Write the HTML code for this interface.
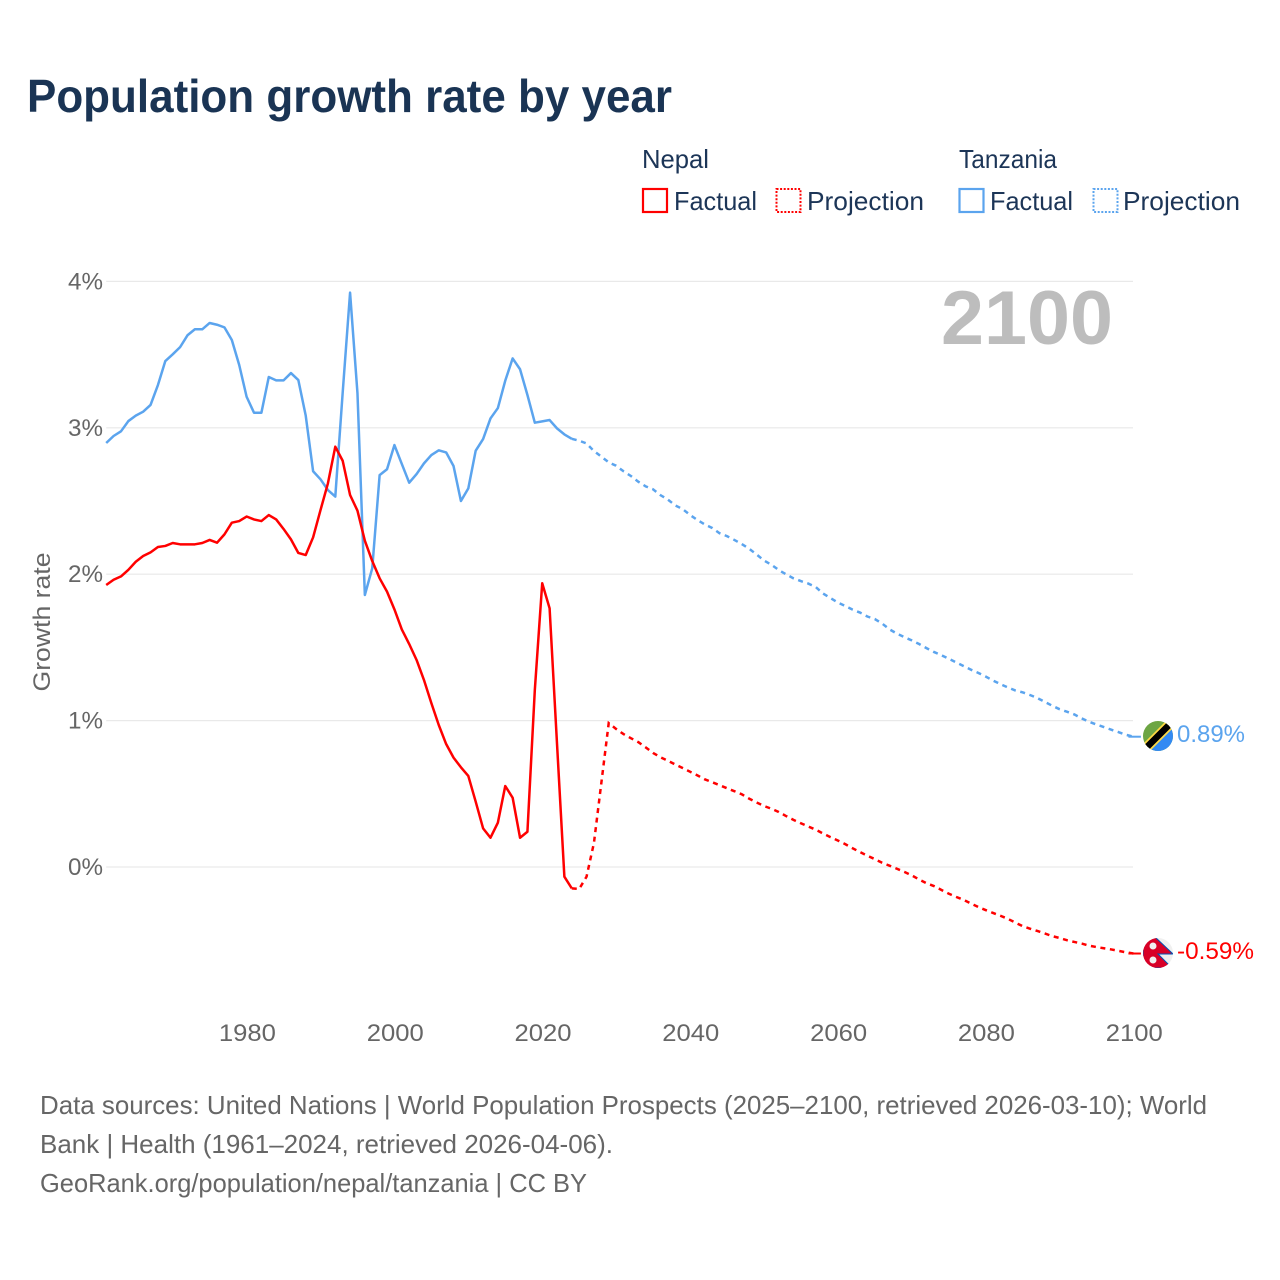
<!DOCTYPE html>
<html lang="en">
<head>
<meta charset="utf-8">
<title>Population growth rate by year</title>
<style>
html,body{margin:0;padding:0;background:#fff;}
svg{display:block;}
text{font-family:"Liberation Sans",sans-serif;}
</style>
</head>
<body>
<svg id="chart" xmlns="http://www.w3.org/2000/svg" width="1280" height="1280" viewBox="0 0 1280 1280">
  <rect width="1280" height="1280" fill="#ffffff"/>
  <text x="27" y="112" font-size="46" font-weight="700" fill="#1a3454" textLength="645" lengthAdjust="spacingAndGlyphs">Population growth rate by year</text>

  <g font-size="26" fill="#1c3557">
    <text x="642" y="168" textLength="67" lengthAdjust="spacingAndGlyphs">Nepal</text>
    <text x="959" y="168" textLength="98" lengthAdjust="spacingAndGlyphs">Tanzania</text>
    <rect x="643" y="189" width="24" height="23" fill="none" stroke="#ff0000" stroke-width="2.2"/>
    <text x="674" y="210" textLength="83" lengthAdjust="spacingAndGlyphs">Factual</text>
    <rect x="776.5" y="189" width="24" height="23" fill="none" stroke="#ff0000" stroke-width="2" stroke-dasharray="2 1.6"/>
    <text x="807" y="210" textLength="117" lengthAdjust="spacingAndGlyphs">Projection</text>
    <rect x="959.5" y="189" width="24" height="23" fill="none" stroke="#5ba4ee" stroke-width="2.2"/>
    <text x="990" y="210" textLength="83" lengthAdjust="spacingAndGlyphs">Factual</text>
    <rect x="1093.5" y="189" width="24" height="23" fill="none" stroke="#5ba4ee" stroke-width="2" stroke-dasharray="2 1.6"/>
    <text x="1123" y="210" textLength="117" lengthAdjust="spacingAndGlyphs">Projection</text>
  </g>

  <g id="grid"></g>
  <g id="yticks"></g>
  <g id="xticks"></g>
  <text transform="translate(50,622) rotate(-90)" text-anchor="middle" font-size="24" fill="#666666" textLength="139" lengthAdjust="spacingAndGlyphs">Growth rate</text>

  <text x="941" y="344" font-size="76" font-weight="700" fill="#bdbdbd" textLength="172" lengthAdjust="spacingAndGlyphs">2100</text>

  <g id="series"></g>

  <defs>
    <clipPath id="flag-clip-tz"><circle cx="1158" cy="736" r="15"/></clipPath>
    <clipPath id="flag-clip-np"><circle cx="1158" cy="953" r="15"/></clipPath>
  </defs>
  <g clip-path="url(#flag-clip-tz)">
    <rect x="1143" y="721" width="30" height="30" fill="#6da544"/>
    <polygon points="1173,721 1173,751 1143,751" fill="#338af3"/>
    <line x1="1141" y1="753" x2="1175" y2="719" stroke="#ffda44" stroke-width="10"/>
    <line x1="1141" y1="753" x2="1175" y2="719" stroke="#000000" stroke-width="6.5"/>
  </g>
  <g clip-path="url(#flag-clip-np)">
    <rect x="1143" y="938" width="30" height="30" fill="#f0f0f0"/>
    <polygon points="1143,937 1155,937 1173,954 1158,954 1172,968 1143,968" fill="#d80027" stroke="#0052b4" stroke-width="1"/>
    <circle cx="1153" cy="946" r="3.5" fill="#f0f0f0"/>
    <circle cx="1153" cy="960" r="3.5" fill="#f0f0f0"/>
  </g>
  <text x="1177" y="742" font-size="24" fill="#5ba4ee" textLength="68" lengthAdjust="spacingAndGlyphs">0.89%</text>
  <text x="1177" y="959" font-size="24" fill="#ff0000" textLength="77" lengthAdjust="spacingAndGlyphs">-0.59%</text>

  <g font-size="26" fill="#666666">
    <text x="40" y="1114" textLength="1167" lengthAdjust="spacingAndGlyphs">Data sources: United Nations | World Population Prospects (2025–2100, retrieved 2026-03-10); World</text>
    <text x="40" y="1153" textLength="573" lengthAdjust="spacingAndGlyphs">Bank | Health (1961–2024, retrieved 2026-04-06).</text>
    <text x="40" y="1192" textLength="547" lengthAdjust="spacingAndGlyphs">GeoRank.org/population/nepal/tanzania | CC BY</text>
  </g>
</svg>

<script>
const yTickValues = [0, 1, 2, 3, 4];
const yTickLabels = ["0%", "1%", "2%", "3%", "4%"];
const xTickValues = [1980, 2000, 2020, 2040, 2060, 2080, 2100];
const xTickLabels = ["1980", "2000", "2020", "2040", "2060", "2080", "2100"];
const factualStartYear = 1961;
const projectionStartYear = 2024;

const nepalFactual = [
  1.926,1.962,1.985,2.03,2.085,2.124,2.149,2.186,2.193,2.213,
  2.204,2.204,2.204,2.213,2.234,2.215,2.272,2.352,2.363,2.394,
  2.374,2.363,2.404,2.374,2.309,2.238,2.145,2.131,2.252,2.438,
  2.62,2.871,2.775,2.541,2.434,2.229,2.09,1.972,1.881,1.76,
  1.623,1.523,1.414,1.277,1.119,0.97,0.84,0.747,0.681,0.622,
  0.446,0.264,0.2,0.303,0.553,0.473,0.2,0.241,1.209,1.938,
  1.767,0.845,-0.066,-0.146
];
const tanzaniaFactual = [
  2.896,2.944,2.976,3.046,3.083,3.11,3.156,3.292,3.456,3.502,
  3.551,3.632,3.673,3.673,3.716,3.704,3.686,3.6,3.429,3.212,
  3.103,3.103,3.347,3.324,3.324,3.374,3.326,3.083,2.703,2.648,
  2.575,2.53,3.24,3.923,3.237,1.858,2.04,2.677,2.717,2.882,
  2.753,2.625,2.684,2.757,2.814,2.846,2.832,2.739,2.5,2.586,
  2.844,2.923,3.064,3.135,3.322,3.474,3.4,3.224,3.035,3.044,
  3.053,2.996,2.955,2.925
];
const nepalProjection = [
  -0.146,-0.15,-0.066,0.164,0.574,0.983,0.943,0.908,0.88,0.853,
  0.817,0.779,0.75,0.726,0.70,0.676,0.651,0.626,0.599,0.579,
  0.559,0.538,0.518,0.497,0.467,0.441,0.417,0.398,0.376,0.348,
  0.322,0.299,0.277,0.255,0.229,0.204,0.181,0.156,0.128,0.102,
  0.077,0.054,0.029,0.009,-0.012,-0.033,-0.057,-0.085,-0.111,-0.13,
  -0.156,-0.182,-0.204,-0.224,-0.249,-0.273,-0.294,-0.314,-0.333,-0.354,
  -0.379,-0.404,-0.421,-0.437,-0.454,-0.472,-0.485,-0.50,-0.512,-0.523,
  -0.537,-0.547,-0.555,-0.563,-0.573,-0.583,-0.591
];
const tanzaniaProjection = [
  2.925,2.912,2.893,2.841,2.803,2.764,2.741,2.703,2.671,2.632,
  2.60,2.58,2.54,2.51,2.47,2.445,2.405,2.37,2.34,2.316,
  2.28,2.26,2.234,2.206,2.174,2.135,2.094,2.065,2.029,1.999,
  1.972,1.953,1.936,1.913,1.868,1.837,1.807,1.783,1.758,1.738,
  1.711,1.694,1.663,1.623,1.594,1.57,1.548,1.523,1.495,1.469,
  1.447,1.423,1.398,1.373,1.348,1.326,1.301,1.274,1.249,1.227,
  1.206,1.193,1.175,1.154,1.128,1.102,1.078,1.061,1.042,1.015,
  0.992,0.973,0.956,0.938,0.921,0.903,0.89
];

const SVG_NS = "http://www.w3.org/2000/svg";
function xScale(year) { return 106.2 + (year - 1961) * 7.39; }
function yScale(value) { return 867 - value * 146.4; }

function linePoints(values, startYear) {
  return values.map(function (v, i) {
    return xScale(startYear + i).toFixed(2) + "," + yScale(v).toFixed(2);
  }).join(" ");
}

const gridGroup = document.getElementById("grid");
const yTickGroup = document.getElementById("yticks");
yTickValues.forEach(function (v, i) {
  const rule = document.createElementNS(SVG_NS, "line");
  
  
  rule.setAttribute("x1", xScale(1961));
  rule.setAttribute("x2", 1133);
  rule.setAttribute("y1", yScale(v));
  rule.setAttribute("y2", yScale(v));
  rule.setAttribute("stroke", "#e9e9e9");
  rule.setAttribute("stroke-width", "1.2");
  gridGroup.appendChild(rule);

  const label = document.createElementNS(SVG_NS, "text");
  
  
  label.setAttribute("x", 68);
  label.setAttribute("y", yScale(v) + 8);
  label.setAttribute("font-size", "24");
  label.setAttribute("fill", "#666666");
  label.setAttribute("textLength", "35");
  label.setAttribute("lengthAdjust", "spacingAndGlyphs");
  label.textContent = yTickLabels[i];
  yTickGroup.appendChild(label);
});

const xTickGroup = document.getElementById("xticks");
xTickValues.forEach(function (v, i) {
  const label = document.createElementNS(SVG_NS, "text");
  
  
  label.setAttribute("x", xScale(v) - 27.7);
  label.setAttribute("y", 1041);
  label.setAttribute("font-size", "24");
  label.setAttribute("fill", "#666666");
  label.setAttribute("textLength", "57");
  label.setAttribute("lengthAdjust", "spacingAndGlyphs");
  label.textContent = xTickLabels[i];
  xTickGroup.appendChild(label);
});

const seriesGroup = document.getElementById("series");

const tzFactualLine = document.createElementNS(SVG_NS, "polyline");


tzFactualLine.setAttribute("points", linePoints(tanzaniaFactual, factualStartYear));
tzFactualLine.setAttribute("fill", "none");
tzFactualLine.setAttribute("stroke", "#5ba4ee");
tzFactualLine.setAttribute("stroke-width", "2.5");
tzFactualLine.setAttribute("stroke-linejoin", "round");
seriesGroup.appendChild(tzFactualLine);

const tzProjectionLine = document.createElementNS(SVG_NS, "polyline");


tzProjectionLine.setAttribute("points", linePoints(tanzaniaProjection, projectionStartYear));
tzProjectionLine.setAttribute("fill", "none");
tzProjectionLine.setAttribute("stroke", "#5ba4ee");
tzProjectionLine.setAttribute("stroke-width", "2.5");
tzProjectionLine.setAttribute("stroke-dasharray", "5 4.6");
seriesGroup.appendChild(tzProjectionLine);

const tzConnector = document.createElementNS(SVG_NS, "line");


tzConnector.setAttribute("x1", xScale(2100) - 5);
tzConnector.setAttribute("x2", xScale(2100) + 7.5);
tzConnector.setAttribute("y1", yScale(tanzaniaProjection[tanzaniaProjection.length - 1]));
tzConnector.setAttribute("y2", yScale(tanzaniaProjection[tanzaniaProjection.length - 1]));
tzConnector.setAttribute("stroke", "#5ba4ee");
tzConnector.setAttribute("stroke-width", "2");
seriesGroup.appendChild(tzConnector);

const npFactualLine = document.createElementNS(SVG_NS, "polyline");


npFactualLine.setAttribute("points", linePoints(nepalFactual, factualStartYear));
npFactualLine.setAttribute("fill", "none");
npFactualLine.setAttribute("stroke", "#ff0000");
npFactualLine.setAttribute("stroke-width", "2.5");
npFactualLine.setAttribute("stroke-linejoin", "round");
seriesGroup.appendChild(npFactualLine);

const npProjectionLine = document.createElementNS(SVG_NS, "polyline");


npProjectionLine.setAttribute("points", linePoints(nepalProjection, projectionStartYear));
npProjectionLine.setAttribute("fill", "none");
npProjectionLine.setAttribute("stroke", "#ff0000");
npProjectionLine.setAttribute("stroke-width", "2.5");
npProjectionLine.setAttribute("stroke-dasharray", "5 4.6");
seriesGroup.appendChild(npProjectionLine);

const npConnector = document.createElementNS(SVG_NS, "line");


npConnector.setAttribute("x1", xScale(2100) - 5);
npConnector.setAttribute("x2", xScale(2100) + 7.5);
npConnector.setAttribute("y1", yScale(nepalProjection[nepalProjection.length - 1]));
npConnector.setAttribute("y2", yScale(nepalProjection[nepalProjection.length - 1]));
npConnector.setAttribute("stroke", "#ff0000");
npConnector.setAttribute("stroke-width", "2");
seriesGroup.appendChild(npConnector);
</script>
</body>
</html>
